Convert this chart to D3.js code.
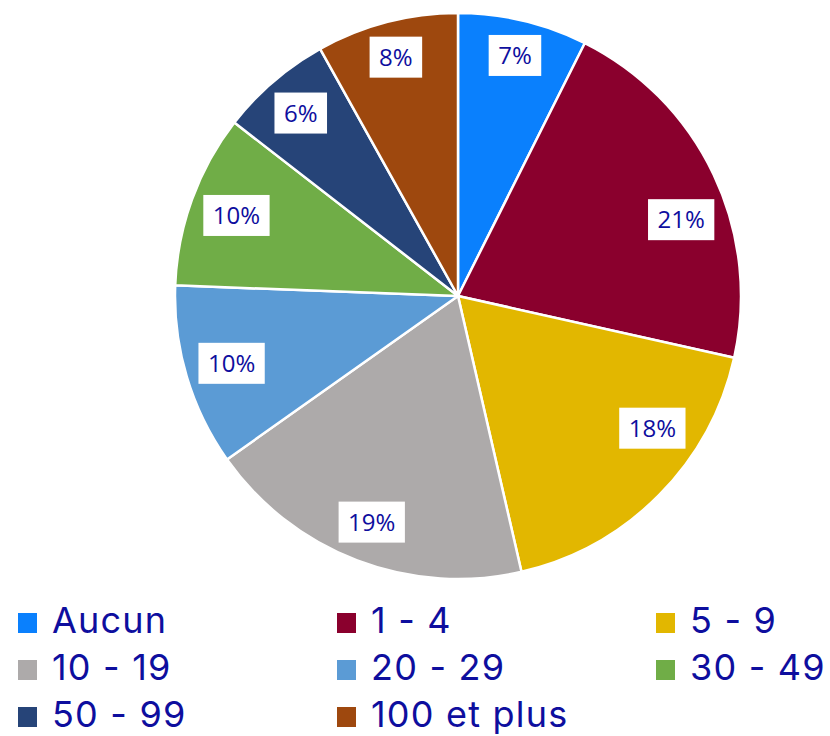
<!DOCTYPE html>
<html>
<head>
<meta charset="utf-8">
<script src="https://cdn.jsdelivr.net/npm/d3@7"></script>
<style>
  html, body { margin: 0; padding: 0; background: #fff; }
  svg { display: block; }
</style>
</head>
<body>
<svg id="chart"></svg>
<script>
/* =====
   DATA
==== */
const categories = ["Aucun", "1 - 4", "5 - 9", "10 - 19", "20 - 29", "30 - 49", "50 - 99", "100 et plus"];
const shares = [7.4, 21.1, 17.9, 18.8, 10.4, 9.9, 6.4, 8.1];   // percent
const colors = ["#0a80fd", "#8a002d", "#e2b700", "#adaaaa", "#5b9bd5", "#70ad47", "#264478", "#9e480e"];

const width = 830, height = 736;
const textBlue = "#0e0e9e";

const svg = d3.select("#chart")
    .attr("width", width)
    .attr("height", height);

/* =====
   PIE
==== */
const cx = 458, cy = 296, radius = 283;
const labelReach = 274;            // outer corner of a label box sits this far from the centre
// Excel "best fit" pulls the two big right-hand labels toward the horizontal (degrees)
const labelAngleNudge = { 1: 6.5, 2: -10.6 };

const pie = d3.pie()
    .sort(null)
    .value(d => d.value);

const arcs = pie(categories.map((c, i) => ({ name: c, value: shares[i], color: colors[i] })));

const arc = d3.arc().innerRadius(0).outerRadius(radius);

const g = svg.append("g").attr("transform", `translate(${cx},${cy})`);

g.selectAll("path.slice")
    .data(arcs)
    .enter()
    .append("path")
    .attr("class", "slice")
    .attr("d", arc)
    .attr("fill", d => d.data.color)
    .attr("stroke", "#fff")
    .attr("stroke-width", 2.5)
    .attr("stroke-linejoin", "round");

// data labels in white boxes, placed "inside end"
const labels = g.selectAll("g.lbl")
    .data(arcs)
    .enter()
    .append("g")
    .attr("class", "lbl");

labels.append("text")
    .attr("text-anchor", "middle")
    .attr("dy", "0.36em")
    .style("font-family", "'Open Sans', sans-serif")
    .style("font-size", "24px")
    .attr("fill", textBlue)
    .text(d => Math.round(d.data.value) + "%");

labels.each(function (d, i) {
    const sel = d3.select(this);
    const bb = sel.select("text").node().getBBox();
    const w = bb.width + 19, h = 41;
    sel.insert("rect", "text")
        .attr("x", -w / 2)
        .attr("y", -h / 2)
        .attr("width", w)
        .attr("height", h)
        .attr("fill", "#fff");

    const ang = (d.startAngle + d.endAngle) / 2 + (labelAngleNudge[i] || 0) * Math.PI / 180;
    const ux = Math.sin(ang), uy = -Math.cos(ang);
    // distance along the ray so the farthest box corner touches labelReach
    const b = Math.abs(ux) * w / 2 + Math.abs(uy) * h / 2;
    const c = (w * w + h * h) / 4 - labelReach * labelReach;
    const t = -b + Math.sqrt(b * b - c);
    sel.attr("transform", `translate(${t * ux},${t * uy})`);
});

/* =====
   LEGEND
==== */
const colX = [18, 337, 656];
const rowY = [633, 680, 727];      // baselines

const legend = svg.selectAll("g.legend")
    .data(categories)
    .enter()
    .append("g")
    .attr("class", "legend")
    .attr("transform", (d, i) => `translate(${colX[i % 3]},${rowY[Math.floor(i / 3)]})`);

legend.append("rect")
    .attr("x", 0)
    .attr("y", -20)
    .attr("width", 19)
    .attr("height", 20)
    .attr("fill", (d, i) => colors[i]);

legend.append("text")
    .attr("x", 34)
    .attr("y", 0)
    .style("font-family", "Inter, sans-serif")
    .style("font-size", "36px")
    .style("letter-spacing", "1.2px")
    .attr("fill", textBlue)
    .text(d => d);
</script>
</body>
</html>
